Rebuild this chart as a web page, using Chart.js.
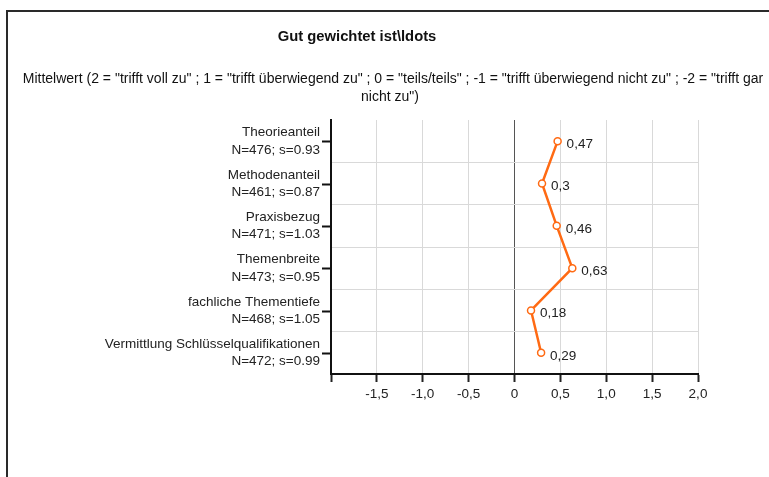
<!DOCTYPE html>
<html>
<head>
<meta charset="utf-8">
<script src="https://cdn.jsdelivr.net/npm/chart.js@4.4.0/dist/chart.umd.min.js"></script>
<style>
  html, body { margin: 0; padding: 0; background: #fff; }
  #wrap { width: 769px; height: 477px; }
</style>
</head>
<body>
<div id="wrap"><canvas id="myChart" width="769" height="477"></canvas></div>
<script>
// Chart data
let itemNames = ["Theorieanteil", "Methodenanteil", "Praxisbezug", "Themenbreite", "fachliche Thementiefe", "Vermittlung Schlüsselqualifikationen"]
let itemStats = ["N=476; s=0.93", "N=461; s=0.87", "N=471; s=1.03", "N=473; s=0.95", "N=468; s=1.05", "N=472; s=0.99"]
let meanValues = [0.47, 0.3, 0.46, 0.63, 0.18, 0.29]
let xTicks = [-2, -1.5, -1, -0.5, 0, 0.5, 1, 1.5, 2]

let chartTitle = "Gut gewichtet ist\\ldots"
let subTitle = ['Mittelwert (2 = "trifft voll zu" ; 1 = "trifft überwiegend zu" ; 0 = "teils/teils" ; -1 = "trifft überwiegend nicht zu" ; -2 = "trifft gar', 'nicht zu")']

let yLabels = itemNames.map((name, i) => [name, itemStats[i]])
let FONT = "'Liberation Sans', Arial, sans-serif"

function formatNum(v) {
    if (v == 0) return "0"
    return v.toFixed(1).replace(".", ",")
}

/*------------------------------------------------ frame, titles, ticks, value labels ------------------------------------------*/
let decoPlugin = {
    id: "deco",
    beforeDraw(chart) {
        let c = chart.ctx
        c.save()
        c.fillStyle = "#fff"
        c.fillRect(0, 0, chart.width, chart.height)
        // frame of the picture
        c.strokeStyle = "#2a2a2a"
        c.lineWidth = 2
        c.beginPath()
        c.moveTo(7, chart.height)
        c.lineTo(7, 11)
        c.lineTo(chart.width, 11)
        c.stroke()
        // titles
        c.fillStyle = "#111"
        c.textAlign = "center"
        c.textBaseline = "middle"
        c.font = "bold 14.8px " + FONT
        c.fillText(chartTitle, 357, 37)
        c.font = "14px " + FONT
        c.fillText(subTitle[0], 393, 79)
        c.fillText(subTitle[1], 390, 97)
        c.restore()
    },
    afterDraw(chart) {
        let c = chart.ctx
        let yScale = chart.scales.y
        let area = chart.chartArea
        c.save()
        // tick marks on the category axis
        c.strokeStyle = "#111"
        c.lineWidth = 2
        for (let i = 0; i < itemNames.length; i++) {
            let y = Math.round(yScale.getPixelForValue(i)) + 0.5
            c.beginPath()
            c.moveTo(area.left - 9, y)
            c.lineTo(area.left, y)
            c.stroke()
        }
        // value labels
        let meta = chart.getDatasetMeta(0)
        c.fillStyle = "#222"
        c.font = "13.5px " + FONT
        c.textAlign = "left"
        c.textBaseline = "middle"
        meta.data.forEach((pt, i) => {
            c.fillText(String(meanValues[i]).replace(".", ","), pt.x + 9, pt.y + 3)
        })
        c.restore()
    }
}

var ctx = document.getElementById("myChart").getContext("2d")
var myChart = new Chart(ctx, {
    type: "line",
    data: {
        labels: yLabels,
        datasets: [{
            label: "Mittelwert",
            data: meanValues,
            borderColor: "#ff6a13",
            borderWidth: 2.5,
            backgroundColor: "#ffffff",
            pointBackgroundColor: "#ffffff",
            pointBorderColor: "#ff6a13",
            pointBorderWidth: 1.5,
            pointRadius: 3.5,
            tension: 0,
        }]
    },
    options: {
        indexAxis: "y",
        responsive: false,
        animation: false,
        devicePixelRatio: 1,
        layout: {
            padding: { top: 120, right: 71, bottom: 63, left: 0 }
        },
        scales: {
            x: {
                type: "linear",
                min: -2,
                max: 2,
                afterFit: function (scale) { scale.height = 40 },
                afterBuildTicks: function (scale) {
                    scale.ticks = xTicks.map(v => ({ value: v }))
                },
                ticks: {
                    autoSkip: false,
                    maxRotation: 0,
                    padding: 4,
                    color: "#222",
                    font: { family: FONT, size: 13.5 },
                    callback: function (v) { return v == -2 ? "" : formatNum(v) }
                },
                grid: {
                    color: ctx => ctx.tick && ctx.tick.value == 0 ? "#555" : "#d9d9d9",
                    tickColor: "#222",
                    tickWidth: 2,
                    tickLength: 8,
                    lineWidth: 1,
                },
                border: { color: "#111", width: 2 }
            },
            y: {
                type: "category",
                offset: true,
                afterFit: function (scale) { scale.width = 331 },
                ticks: {
                    padding: 11,
                    color: "#222",
                    font: { family: FONT, size: 13.5, lineHeight: 1.28 },
                },
                grid: {
                    offset: true,
                    drawTicks: false,
                    color: ctx => ctx.index == 0 ? "rgba(0,0,0,0)" : "#d9d9d9",
                    lineWidth: 1,
                },
                border: { color: "#111", width: 2 }
            }
        },
        plugins: {
            legend: { display: false },
            tooltip: { enabled: false },
            title: { display: false },
        },
    },
    plugins: [decoPlugin]
});
</script>
</body>
</html>
